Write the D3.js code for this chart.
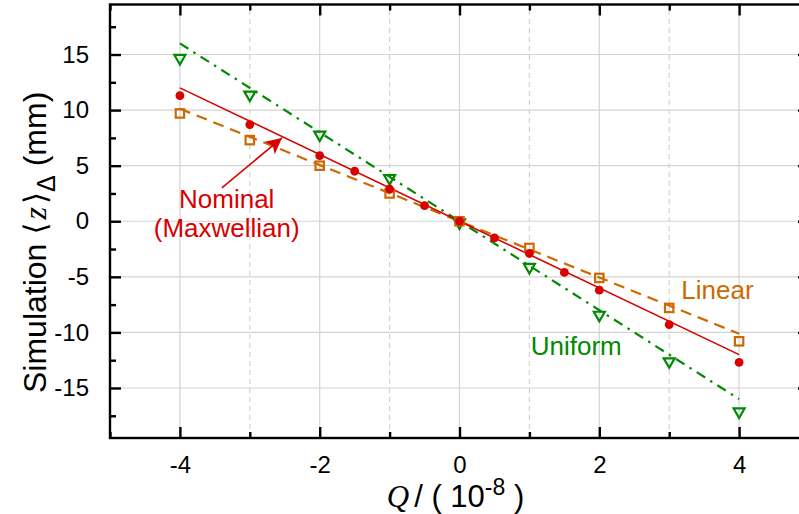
<!DOCTYPE html>
<html>
<head>
<meta charset="utf-8">
<script src="https://cdn.jsdelivr.net/npm/d3@7"></script>
<style>
  body { margin: 0; background: #fff; }
  text { font-family: "Liberation Sans", Arial, sans-serif; }
</style>
</head>
<body>
<div id="chart"></div>
<script>
// charge values, units of 1e-8
const qAll = [-4, -3, -2, -1.5, -1, -0.5, 0, 0.5, 1, 1.5, 2, 3, 4];
const qInt = [-4, -3, -2, -1, 0, 1, 2, 3, 4];

// simulated <z> shifts (mm)
const nominal = [11.3, 8.7, 5.9, 4.5, 2.9, 1.4, 0.0, -1.5, -2.9, -4.6, -6.2, -9.3, -12.7];
const linear = [9.7, 7.3, 5.0, 2.5, 0.0, -2.4, -5.1, -7.8, -10.8];
const uniform = [14.6, 11.3, 7.7, 3.8, -0.2, -4.2, -8.5, -12.7, -17.2];

// fitted slopes (mm per 1e-8)
const fitNominal = -3.0;
const fitLinear = -2.53;
const fitUniform = -4.0;
const fitRange = [-4, 4];

const xTicks = [-4, -2, 0, 2, 4];
const xMinor = [-5, -3, -1, 1, 3, 5];
const yTicks = [-15, -10, -5, 0, 5, 10, 15];
const yMinor = [-17.5, -12.5, -7.5, -2.5, 2.5, 7.5, 12.5, 17.5];

const W = 799, H = 514;
const margin = {top: 4.5, right: -10, bottom: 76, left: 110};
const red = '#d80000', orange = '#cc6a00', green = '#008a00';

var svg = d3.select('#chart').append('svg')
    .attr('width', W)
    .attr('height', H);

var x = d3.scaleLinear().domain([-5, 5]).range([margin.left, W - margin.right]);
var y = d3.scaleLinear().domain([-19.5, 19.5]).range([H - margin.bottom, margin.top]);

// grid
svg.append('g').selectAll('line').data(xTicks).enter().append('line')
    .attr('x1', d => x(d)).attr('x2', d => x(d))
    .attr('y1', y(-19.5)).attr('y2', y(19.5))
    .style('stroke', '#d4d4d4').style('stroke-width', 1.2);
svg.append('g').selectAll('line').data(xMinor.filter(d => d > -5 && d < 5)).enter().append('line')
    .attr('x1', d => x(d)).attr('x2', d => x(d))
    .attr('y1', y(-19.5)).attr('y2', y(19.5))
    .style('stroke', '#d4d4d4').style('stroke-width', 1.2)
    .style('stroke-dasharray', '5,4');
svg.append('g').selectAll('line').data(yTicks).enter().append('line')
    .attr('x1', x(-5)).attr('x2', x(5))
    .attr('y1', d => y(d)).attr('y2', d => y(d))
    .style('stroke', '#d4d4d4').style('stroke-width', 1.2);

// axes, ticks inside
function styleAxis(g){
    g.selectAll('.domain').remove();
    g.selectAll('.tick line').style('stroke', '#000').style('stroke-width', 2.4);
    g.selectAll('text').style('font-size', '24px').style('fill', '#000');
}
const fmt = d => String(d);
svg.append('g').attr('transform', 'translate(0,' + y(-19.5) + ')')
    .call(d3.axisBottom(x).tickValues(xTicks).tickSize(-11).tickPadding(18).tickFormat(fmt))
    .call(styleAxis);
svg.append('g').attr('transform', 'translate(0,' + y(-19.5) + ')')
    .call(d3.axisBottom(x).tickValues(xMinor).tickSize(-6).tickFormat(''))
    .call(styleAxis);
svg.append('g').attr('transform', 'translate(0,' + y(19.5) + ')')
    .call(d3.axisTop(x).tickValues(xTicks).tickSize(-11).tickFormat(''))
    .call(styleAxis);
svg.append('g').attr('transform', 'translate(0,' + y(19.5) + ')')
    .call(d3.axisTop(x).tickValues(xMinor).tickSize(-6).tickFormat(''))
    .call(styleAxis);
svg.append('g').attr('transform', 'translate(' + x(-5) + ',0)')
    .call(d3.axisLeft(y).tickValues(yTicks).tickSize(-11).tickPadding(21).tickFormat(fmt))
    .call(styleAxis);
svg.append('g').attr('transform', 'translate(' + x(-5) + ',0)')
    .call(d3.axisLeft(y).tickValues(yMinor).tickSize(-6).tickFormat(''))
    .call(styleAxis);
svg.append('g').attr('transform', 'translate(' + x(5) + ',0)')
    .call(d3.axisRight(y).tickValues(yTicks).tickSize(-11).tickFormat(''))
    .call(styleAxis);

// frame
svg.append('rect')
    .attr('x', x(-5)).attr('y', y(19.5))
    .attr('width', x(5) - x(-5)).attr('height', y(-19.5) - y(19.5))
    .style('fill', 'none').style('stroke', '#000').style('stroke-width', 2.4);

// fit lines
var fitLine = d3.line().x(d => x(d[0])).y(d => y(d[1]));
function fitPts(k){ return fitRange.map(q => [q, k * q]); }
svg.append('path').datum(fitPts(fitUniform)).attr('d', fitLine)
    .style('fill', 'none').style('stroke', green).style('stroke-width', 2.2)
    .style('stroke-dasharray', '10,6,2.5,6');
svg.append('path').datum(fitPts(fitLinear)).attr('d', fitLine)
    .style('fill', 'none').style('stroke', orange).style('stroke-width', 2.2)
    .style('stroke-dasharray', '11,7');
svg.append('path').datum(fitPts(fitNominal)).attr('d', fitLine)
    .style('fill', 'none').style('stroke', red).style('stroke-width', 1.6);

// markers
svg.append('g').selectAll('path').data(qInt.map((q, i) => [q, uniform[i]])).enter().append('path')
    .attr('transform', d => 'translate(' + x(d[0]) + ',' + y(d[1]) + ')')
    .attr('d', 'M-5.5,-4 L5.5,-4 L0,5.5 Z')
    .style('fill', 'none').style('stroke', green).style('stroke-width', 2.2);
svg.append('g').selectAll('rect').data(qInt.map((q, i) => [q, linear[i]])).enter().append('rect')
    .attr('x', d => x(d[0]) - 4.2).attr('y', d => y(d[1]) - 4.2)
    .attr('width', 8.4).attr('height', 8.4)
    .style('fill', 'none').style('stroke', orange).style('stroke-width', 2.2);
svg.append('g').selectAll('circle').data(qAll.map((q, i) => [q, nominal[i]])).enter().append('circle')
    .attr('cx', d => x(d[0])).attr('cy', d => y(d[1]))
    .attr('r', 4.4)
    .style('fill', red);

// annotations
svg.append('defs').append('marker')
    .attr('id', 'arr').attr('viewBox', '0 0 10 10')
    .attr('refX', 10).attr('refY', 5)
    .attr('markerWidth', 16).attr('markerHeight', 16)
    .attr('markerUnits', 'userSpaceOnUse')
    .attr('orient', 'auto')
  .append('path').attr('d', 'M0,0 L10,5 L0,10 L2.5,5 Z').style('fill', red);
svg.append('line')
    .attr('x1', x(-3.4)).attr('y1', y(3.0))
    .attr('x2', x(-2.54)).attr('y2', y(7.5))
    .style('stroke', red).style('stroke-width', 1.6)
    .attr('marker-end', 'url(#arr)');
svg.append('text').attr('x', x(-3.33)).attr('y', y(1.15))
    .attr('text-anchor', 'middle').style('font-size', '26px').style('fill', red)
    .text('Nominal');
svg.append('text').attr('x', x(-3.33)).attr('y', y(-1.45))
    .attr('text-anchor', 'middle').style('font-size', '26px').style('fill', red)
    .text('(Maxwellian)');
svg.append('text').attr('x', x(3.69)).attr('y', y(-7.0))
    .attr('text-anchor', 'middle').style('font-size', '26px').style('fill', orange)
    .text('Linear');
svg.append('text').attr('x', x(1.67)).attr('y', y(-12.0))
    .attr('text-anchor', 'middle').style('font-size', '26px').style('fill', green)
    .text('Uniform');

// axis titles
var xt = svg.append('text').attr('x', x(0) - 4).attr('y', 507)
    .attr('text-anchor', 'middle').style('font-size', '31px');
xt.append('tspan').style('font-family', '"Liberation Serif", serif').style('font-style', 'italic').text('Q');
xt.append('tspan').attr('dx', 5).text('/ ( 10');
xt.append('tspan').attr('dy', -12).style('font-size', '23px').text('-8');
xt.append('tspan').attr('dy', 12).text(' )');

var yt = svg.append('text')
    .attr('transform', 'translate(46,393) rotate(-90)')
    .attr('text-anchor', 'start').style('font-size', '32px');
yt.append('tspan').text('Simulation');
yt.append('tspan').attr('dx', 9).style('font-family', '"DejaVu Sans", sans-serif').style('font-size', '31px').text('\u27E8');
yt.append('tspan').attr('dx', 3).style('font-family', '"Liberation Serif", serif').style('font-style', 'italic').text('z');
yt.append('tspan').attr('dx', 3).style('font-family', '"DejaVu Sans", sans-serif').style('font-size', '31px').text('\u27E9');
yt.append('tspan').attr('dy', 9).style('font-size', '25px').text('\u0394');
yt.append('tspan').attr('dy', -9).text(' (mm)');
</script>
</body>
</html>
